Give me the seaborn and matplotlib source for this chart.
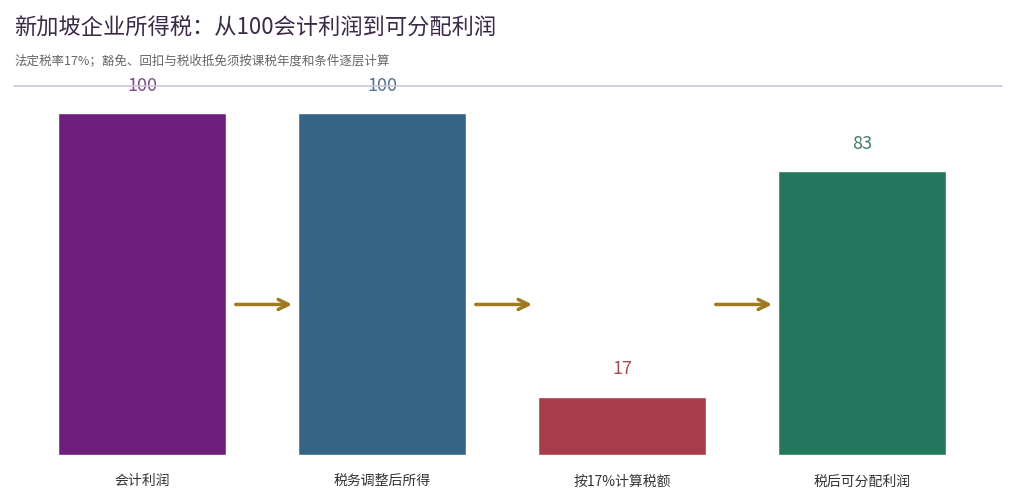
import matplotlib.pyplot as plt
import seaborn as sns
import pandas as pd

categories = ['会计利润', '税务调整后所得', '按17%计算税额', '税后可分配利润']
values = [100, 100, 17, 83]
bar_colors = ['#6E1F7E', '#366487', '#A63D48', '#24765C']
label_colors = ['#7E4A8A', '#4F7392', '#A84A55', '#3E7E66']

sns.set_theme(style='white')
plt.rcParams['font.family'] = ['Noto Sans CJK SC', 'DejaVu Sans']

df = pd.DataFrame({'cat': categories, 'val': values})
fig = plt.figure(figsize=(10.12, 5.01), dpi=100)
ax = fig.add_axes([22/1012, 0.092, 960/1012, 0.6825])
sns.barplot(data=df, x='cat', y='val', hue='cat', palette=bar_colors,
            width=0.7, legend=False, ax=ax, saturation=1)
ax.set_ylim(0, 100)
ax.set_xlim(-0.5, 3.5)
ax.set_xlabel(''); ax.set_ylabel('')
ax.set_yticks([])
ax.tick_params(axis='x', labelsize=10, colors='#333333', pad=14, length=0)
sns.despine(ax=ax, left=True, bottom=True)

for i, v in enumerate(values):
    ax.text(i, v + 8, f'{v}', ha='center', va='center', fontsize=13,
            color=label_colors[i], clip_on=False)

for i in range(3):
    if i == 1 or True:
        ax.annotate('', xy=(i + 0.637, 44), xytext=(i + 0.379, 44),
                    arrowprops=dict(arrowstyle='->', color='#A07A20', lw=2.5,
                                    mutation_scale=18))

fig.text(14/1012, 1 - 28/501, '新加坡企业所得税：从100会计利润到可分配利润',
         fontsize=16, color='#3A2A48', va='center')
fig.text(14/1012, 1 - 61/501, '法定税率17%；豁免、回扣与税收抵免须按课税年度和条件逐层计算',
         fontsize=9, color='#666666', va='center')
fig.add_artist(plt.Line2D([14/1012, 1002/1012], [1 - 86/501] * 2,
                          color='#CFC6DA', lw=1.2))

fig.savefig('out.png', dpi=100)
